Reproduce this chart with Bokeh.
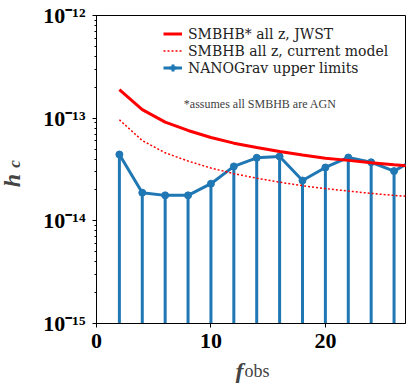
import math
from bokeh.plotting import figure
from bokeh.models import Legend, LegendItem, Label, FixedTicker, CustomJSTickFormatter
from bokeh.embed import file_html
from bokeh.resources import INLINE

freqs = [2, 4, 6, 8, 10, 12, 14, 16, 18, 20, 22, 24, 26, 28]
nanograv = [4.43e-14, 1.88e-14, 1.77e-14, 1.77e-14, 2.30e-14, 3.39e-14, 4.11e-14,
            4.24e-14, 2.47e-14, 3.31e-14, 4.14e-14, 3.72e-14, 3.05e-14, 4.10e-14]
jwst = [1.90e-13, 1.21e-13, 9.15e-14, 7.59e-14, 6.49e-14, 5.71e-14, 5.19e-14,
        4.74e-14, 4.37e-14, 4.08e-14, 3.88e-14, 3.67e-14, 3.51e-14, 3.37e-14]
current = [9.64e-14, 6.05e-14, 4.60e-14, 3.82e-14, 3.27e-14, 2.88e-14, 2.60e-14,
           2.38e-14, 2.20e-14, 2.06e-14, 1.95e-14, 1.85e-14, 1.77e-14, 1.70e-14]
x_ticks = [0, 10, 20]
legend_labels = ["SMBHB* all z, JWST", "SMBHB all z, current model", "NANOGrav upper limits"]
note = "*assumes all SMBHB are AGN"

X_MIN, X_MAX = 0, 27
Y_MIN, Y_MAX = 1e-15, 1e-12

BLUE = "#1f77b4"
RED = "#ff0000"
SERIF = "Liberation Serif"

p = figure(width=416, height=383, x_range=(X_MIN, X_MAX), y_range=(Y_MIN, Y_MAX),
           y_axis_type="log", output_backend="svg", toolbar_location=None,
           min_border_left=96, min_border_right=11, min_border_top=15, min_border_bottom=60)
p.background_fill_color = "white"
p.border_fill_color = "white"
p.outline_line_color = "black"
p.outline_line_width = 1
p.grid.visible = False

# error-bar stems (upper limits) down to bottom of the axis
p.segment(x0=freqs, y0=[Y_MIN / 10] * len(freqs), x1=freqs, y1=nanograv,
          line_color=BLUE, line_width=3)
r_ng = p.line(freqs, nanograv, line_color=BLUE, line_width=3)
p.scatter(freqs, nanograv, size=7, color=BLUE)
r_cross = p.scatter(freqs, nanograv, marker="cross", size=0, line_color=BLUE, line_width=3)

r_jwst = p.line(freqs, jwst, line_color=RED, line_width=3)
r_cur = p.line(freqs, current, line_color=RED, line_width=1.5, line_dash="2 2")

legend = Legend(items=[
    LegendItem(label=legend_labels[0], renderers=[r_jwst]),
    LegendItem(label=legend_labels[1], renderers=[r_cur]),
    LegendItem(label=legend_labels[2], renderers=[r_ng, r_cross]),
], location=(67, 247), padding=0, margin=0, spacing=0,
    border_line_color=None, background_fill_alpha=0,
    label_text_font="DejaVu Serif", label_text_font_size="14px", label_text_color="#222222",
    glyph_width=19, glyph_height=17, label_height=17, label_standoff=6)
p.add_layout(legend)

p.add_layout(Label(x=14.3, y=1.36e-13, text=note, text_font=SERIF, text_font_size="12px",
                   text_color="#404040", text_align="center", text_baseline="middle"))

# axes styling
for ax in (p.xaxis[0], p.yaxis[0]):
    ax.axis_line_color = "black"
    ax.major_tick_line_color = "black"
    ax.minor_tick_line_color = "black"
    ax.major_tick_out = 4
    ax.major_tick_in = 0
    ax.minor_tick_out = 2
    ax.minor_tick_in = 0
    ax.major_label_text_font = SERIF
    ax.major_label_text_font_style = "bold"
    ax.major_label_text_font_size = "22px"
    ax.major_label_text_color = "black"
p.xaxis[0].ticker = FixedTicker(ticks=x_ticks)
p.xaxis[0].minor_tick_line_color = None
p.xaxis[0].major_label_standoff = 6
p.yaxis[0].major_label_standoff = 7
p.yaxis[0].formatter = CustomJSTickFormatter(code="""
const sup = {"0":"\u2070","1":"\u00b9","2":"\u00b2","3":"\u00b3","4":"\u2074","5":"\u2075",
             "6":"\u2076","7":"\u2077","8":"\u2078","9":"\u2079","-":"\u207b"};
const e = Math.round(Math.log10(tick));
return "10" + String(e).split("").map(c => sup[c]).join("");
""")

# axis titles, placed in side panels that have spare room (data units)
p.add_layout(Label(x=-7.34, y=2.47e-14, text="h",
                   angle=math.pi / 2, text_font=SERIF, text_font_style="bold italic",
                   text_font_size="24px", text_align="center", text_baseline="middle"), "left")
p.add_layout(Label(x=-7.17, y=3.58e-14, text="c",
                   angle=math.pi / 2, text_font=SERIF, text_font_style="bold italic",
                   text_font_size="17px", text_align="center", text_baseline="middle"), "above")
p.add_layout(Label(x=12.85, y=3.41e-16, text="f",
                   text_font=SERIF, text_font_style="bold italic",
                   text_font_size="24px", text_align="right", text_baseline="alphabetic"), "right")
p.add_layout(Label(x=12.93, y=3.41e-16, text="obs",
                   text_font=SERIF, text_font_size="18px", text_align="left",
                   text_baseline="alphabetic"), "below")

open("out.html", "w").write(file_html(p, INLINE))
